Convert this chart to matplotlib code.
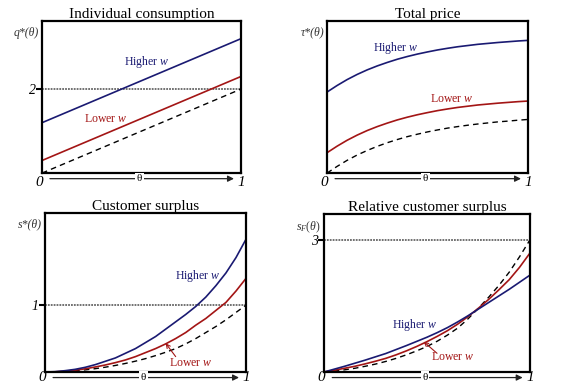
import matplotlib
matplotlib.use("Agg")
import matplotlib.pyplot as plt
import matplotlib.transforms as mtrans

plt.rcParams['font.family'] = ['Liberation Serif', 'DejaVu Serif']
plt.rcParams['mathtext.fontset'] = 'custom'
plt.rcParams['mathtext.rm'] = 'Liberation Serif'
plt.rcParams['mathtext.it'] = 'Liberation Serif:italic'

BLUE = '#1a1a72'
RED = '#a31515'

# ---- data ----
# individual consumption q*(theta): straight lines
theta_q = [0.0, 1.0]
q_high = [1.2, 3.2]
q_low = [0.3, 2.3]
q_first = [0.0, 2.0]

theta = [0.0, 0.05, 0.1, 0.15, 0.2, 0.25, 0.3, 0.35, 0.4, 0.45, 0.5,
         0.55, 0.6, 0.65, 0.7, 0.75, 0.8, 0.85, 0.9, 0.95, 1.0]

# total price tau*(theta)
tau_high = [0.533, 0.576, 0.615, 0.649, 0.679, 0.705, 0.728, 0.749, 0.767, 0.783, 0.797,
            0.810, 0.821, 0.831, 0.839, 0.847, 0.853, 0.859, 0.864, 0.869, 0.873]
tau_low = [0.134, 0.177, 0.216, 0.250, 0.280, 0.306, 0.329, 0.350, 0.368, 0.384, 0.398,
           0.411, 0.422, 0.432, 0.440, 0.448, 0.454, 0.460, 0.465, 0.470, 0.474]
tau_first = [0.0, 0.044, 0.084, 0.119, 0.149, 0.176, 0.200, 0.221, 0.240, 0.256, 0.271,
             0.284, 0.296, 0.306, 0.315, 0.323, 0.330, 0.337, 0.342, 0.348, 0.353]

# customer surplus s*(theta)
s_high = [0.0, 0.005, 0.02, 0.04, 0.07, 0.11, 0.16, 0.21, 0.28, 0.35, 0.44,
          0.53, 0.64, 0.75, 0.86, 0.98, 1.12, 1.29, 1.48, 1.71, 1.985]
s_low = [0.0, 0.003, 0.012, 0.027, 0.048, 0.075, 0.105, 0.14, 0.18, 0.23, 0.29,
         0.35, 0.42, 0.50, 0.59, 0.70, 0.80, 0.92, 1.04, 1.21, 1.40]
s_first = [0.0, 0.002, 0.008, 0.018, 0.032, 0.05, 0.072, 0.098, 0.128, 0.162, 0.2,
           0.245, 0.295, 0.35, 0.42, 0.50, 0.59, 0.68, 0.78, 0.89, 1.0]

# relative customer surplus s_F(theta)
sf_high = [0.0, 0.065, 0.13, 0.2, 0.27, 0.345, 0.42, 0.51, 0.6, 0.695, 0.79,
           0.895, 1.01, 1.14, 1.28, 1.43, 1.58, 1.73, 1.88, 2.04, 2.2]
sf_low = [0.0, 0.04, 0.085, 0.13, 0.185, 0.245, 0.31, 0.39, 0.48, 0.58, 0.69,
          0.81, 0.94, 1.09, 1.26, 1.45, 1.65, 1.87, 2.1, 2.38, 2.7]
sf_first = [0.0, 0.02, 0.05, 0.085, 0.13, 0.18, 0.24, 0.31, 0.39, 0.48, 0.58,
            0.7, 0.84, 1.0, 1.21, 1.45, 1.7, 1.97, 2.27, 2.62, 3.0]

fig = plt.figure(figsize=(5.75, 3.83), dpi=100)
ax1 = fig.add_axes([0.0730, 0.548, 0.346, 0.397])
ax2 = fig.add_axes([0.5687, 0.548, 0.3496, 0.397])
ax3 = fig.add_axes([0.0783, 0.0287, 0.3496, 0.415])
ax4 = fig.add_axes([0.5635, 0.0287, 0.358, 0.4125])


def base(ax, title, ylab, ymax, ref=None, end_drop=-9):
    ax.set_xlim(0, 1)
    ax.set_ylim(0, ymax)
    for sp in ax.spines.values():
        sp.set_linewidth(1.6)
    ax.set_xticks([])
    if ref is not None:
        ax.axhline(ref, color='#666666', lw=1.3, ls=(0, (1, 0.6)), zorder=1)
        ax.set_yticks([ref])
        ax.set_yticklabels([str(ref)], fontstyle='italic', fontsize=10)
        ax.tick_params(axis='y', direction='out', length=4, width=1.5, pad=0.5)
    else:
        ax.set_yticks([])
    ax.set_title(title, fontsize=11, pad=0.5)
    ax.annotate(ylab, xy=(0, 1), xycoords='axes fraction', xytext=(-2, -4),
                textcoords='offset points', ha='right', va='top',
                fontsize=8.5, fontstyle='italic', color='#333333')

    # theta axis: arrow a few points under the frame
    off = mtrans.offset_copy(ax.transAxes, fig=fig, x=0, y=-4, units='points')
    ax.annotate('', xy=(0.965, 0), xycoords=off, xytext=(0.04, 0), textcoords=off,
                arrowprops=dict(arrowstyle='-|>', color='#222222', lw=0.9,
                                mutation_scale=9, shrinkA=0, shrinkB=0),
                annotation_clip=False)
    ax.annotate('θ', xy=(0.49, 0), xycoords='axes fraction', xytext=(0, -4),
                textcoords='offset points', ha='center', va='center', fontsize=8,
                bbox=dict(boxstyle='square,pad=0.15', fc='white', ec='none'),
                annotation_clip=False)
    ax.annotate('0', xy=(0, 0), xycoords='axes fraction', xytext=(-2, end_drop),
                textcoords='offset points', ha='center', va='baseline',
                fontsize=11, fontstyle='italic', annotation_clip=False)
    ax.annotate('1', xy=(1, 0), xycoords='axes fraction', xytext=(0, end_drop),
                textcoords='offset points', ha='center', va='baseline',
                fontsize=11, fontstyle='italic', annotation_clip=False)


def curves(ax, x, hi, lo, first):
    ax.plot(x, first, color='black', lw=1.0, ls=(0, (4, 3)))
    ax.plot(x, lo, color=RED, lw=1.2)
    ax.plot(x, hi, color=BLUE, lw=1.2)


# Individual consumption
base(ax1, 'Individual consumption', 'q*(θ)', 3.62, ref=2)
curves(ax1, theta_q, q_high, q_low, q_first)
ax1.text(0.528, 2.64, 'Higher $w$', color=BLUE, fontsize=8.5, ha='center', va='center')
ax1.text(0.32, 1.29, 'Lower $w$', color=RED, fontsize=8.5, ha='center', va='center')

# Total price
base(ax2, 'Total price', 'τ*(θ)', 1.0)
curves(ax2, theta, tau_high, tau_low, tau_first)
ax2.text(0.342, 0.82, 'Higher $w$', color=BLUE, fontsize=8.5, ha='center', va='center')
ax2.text(0.62, 0.49, 'Lower $w$', color=RED, fontsize=8.5, ha='center', va='center')

# Customer surplus
base(ax3, 'Customer surplus', 's*(θ)', 2.375, ref=1, end_drop=-6.6)
curves(ax3, theta, s_high, s_low, s_first)
ax3.text(0.758, 1.43, 'Higher $w$', color=BLUE, fontsize=8.5, ha='center', va='center')
ax3.text(0.727, 0.142, 'Lower $w$', color=RED, fontsize=8.5, ha='center', va='center')
ax3.annotate('', xy=(0.6, 0.43), xytext=(0.65, 0.23),
             arrowprops=dict(arrowstyle='->', color=RED, lw=0.8, mutation_scale=7,
                             shrinkA=0, shrinkB=0))

# Relative customer surplus
base(ax4, 'Relative customer surplus', r'$s_F(\theta)$', 3.59, ref=3, end_drop=-6.6)
curves(ax4, theta, sf_high, sf_low, sf_first)
ax4.text(0.439, 1.057, 'Higher $w$', color=BLUE, fontsize=8.5, ha='center', va='center')
ax4.text(0.626, 0.34, 'Lower $w$', color=RED, fontsize=8.5, ha='center', va='center')
ax4.annotate('', xy=(0.484, 0.69), xytext=(0.549, 0.425),
             arrowprops=dict(arrowstyle='->', color=RED, lw=0.8, mutation_scale=7,
                             shrinkA=0, shrinkB=0))

fig.savefig('out.png', dpi=100)
